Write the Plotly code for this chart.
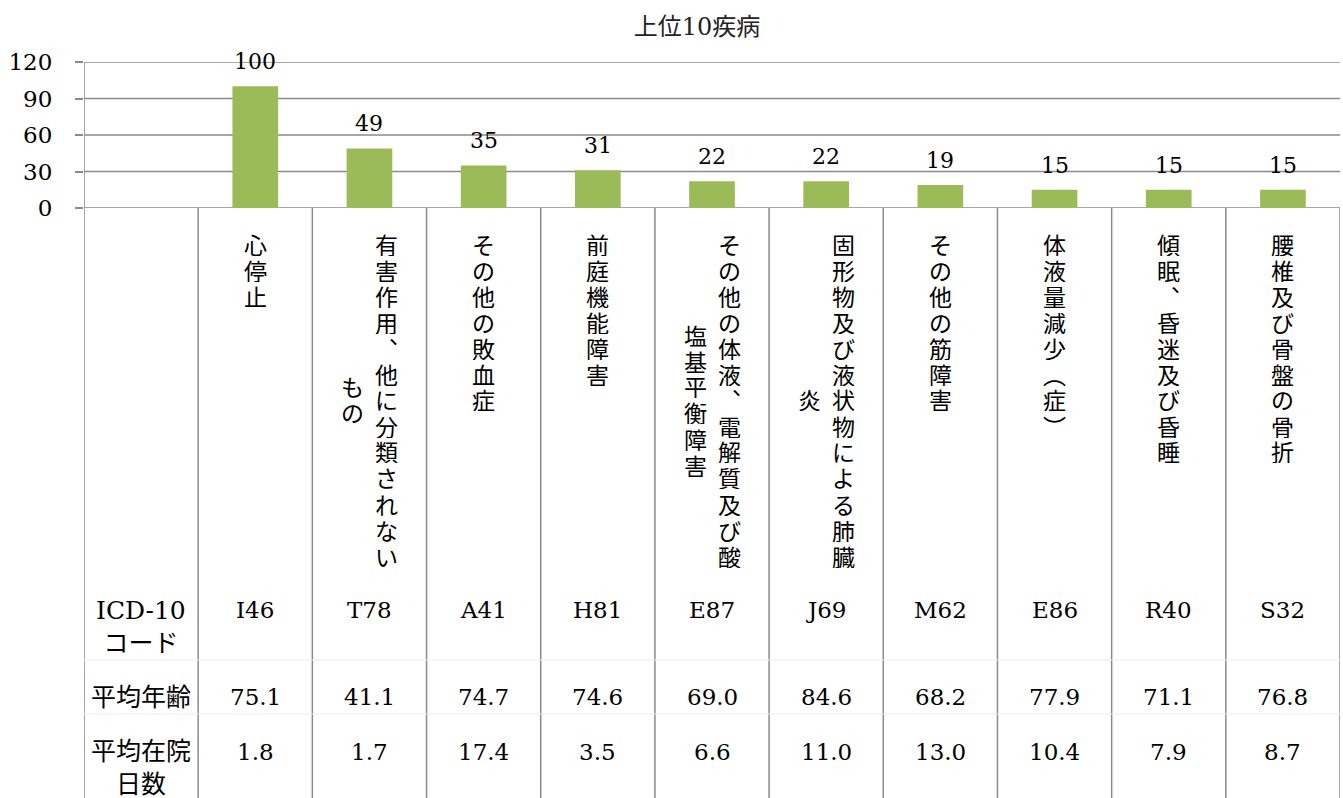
import plotly.graph_objects as go

# ---------------- data ----------------
chart_title = "上位10疾病"
diseases = [
    "心停止",
    "有害作用、他に分類されないもの",
    "その他の敗血症",
    "前庭機能障害",
    "その他の体液、電解質及び酸塩基平衡障害",
    "固形物及び液状物による肺臓炎",
    "その他の筋障害",
    "体液量減少（症）",
    "傾眠、昏迷及び昏睡",
    "腰椎及び骨盤の骨折",
]
counts = [100, 49, 35, 31, 22, 22, 19, 15, 15, 15]
icd_codes = ["I46", "T78", "A41", "H81", "E87", "J69", "M62", "E86", "R40", "S32"]
mean_age = ["75.1", "41.1", "74.7", "74.6", "69.0", "84.6", "68.2", "77.9", "71.1", "76.8"]
mean_stay = ["1.8", "1.7", "17.4", "3.5", "6.6", "11.0", "13.0", "10.4", "7.9", "8.7"]
row_headers = ["ICD-10<br>コード", "平均年齢", "平均在院<br>日数"]
y_ticks = [0, 30, 60, 90, 120]

# ---------------- layout constants ----------------
W, H = 1343, 798
TOP, BOTTOM_PX = 62, 798
ZERO_PX = 208
PLOT_H = BOTTOM_PX - TOP
GRID = "#8a8a8a"
BAR = "#9BBB59"
SERIF = "DejaVu Serif, Noto Sans CJK JP, serif"
CJK = "Noto Sans CJK JP, sans-serif"


def py(p):
    """pixel y -> paper y"""
    return (BOTTOM_PX - p) / PLOT_H


xs = list(range(1, len(diseases) + 1))
NCOL = len(diseases) + 1

fig = go.Figure()
fig.add_trace(go.Bar(x=xs, y=counts, width=0.4, marker=dict(color=BAR, line=dict(width=0)),
                     hoverinfo="skip"))

annotations = []
# value labels
for x, v in zip(xs, counts):
    annotations.append(dict(x=x, y=v, xref="x", yref="y", text=str(v), showarrow=False,
                            yanchor="bottom", yshift=10,
                            font=dict(family=SERIF, size=22, color="#000")))

# vertical category labels (characters stacked top to bottom, columns right to left)
VMAP = {"、": "︑", "（": "︵", "）": "︶"}
COLLEN = 13
VSIZE = 23
PITCH = 26
FIRST_C = 243
for x, name in zip(xs, diseases):
    cols = [name[i:i + COLLEN] for i in range(0, len(name), COLLEN)]
    offsets = [0] if len(cols) == 1 else [17, -17]
    right_center = FIRST_C + (len(cols[0]) - 1) / 2 * PITCH
    for ci, col in enumerate(cols):
        n = len(col)
        for k, ch in enumerate(col):
            if ci == 0:
                cy = FIRST_C + k * PITCH
            else:
                cy = right_center + (k - (n - 1) / 2) * PITCH
            annotations.append(dict(x=x, y=py(cy), xref="x", yref="paper",
                                    xshift=offsets[ci], text=VMAP.get(ch, ch),
                                    showarrow=False, yanchor="middle", xanchor="center",
                                    height=PITCH - 1, valign="middle", borderpad=0,
                                    font=dict(family=CJK, size=VSIZE, color="#000")))

# table rows
row_values = [icd_codes, mean_age, mean_stay]
row_value_y = [610, 697, 752]
row_header_y = [627, 697, 768]
for hdr, vals, vy, hy in zip(row_headers, row_values, row_value_y, row_header_y):
    annotations.append(dict(x=0, y=py(hy), xref="x", yref="paper", text=hdr,
                            showarrow=False, yanchor="middle",
                            font=dict(family=SERIF, size=25, color="#000")))
    for x, v in zip(xs, vals):
        annotations.append(dict(x=x, y=py(vy), xref="x", yref="paper", text=v,
                                showarrow=False, yanchor="middle",
                                font=dict(family=SERIF, size=23, color="#000")))

shapes = []
# horizontal gridlines
for t in y_ticks:
    shapes.append(dict(type="line", xref="x", yref="y", x0=-0.5, x1=NCOL - 0.5, y0=t, y1=t,
                       layer="below", line=dict(color=GRID, width=1.5)))
# y axis line running through the whole table
shapes.append(dict(type="line", xref="x", yref="paper", x0=-0.5, x1=-0.5, y0=0, y1=1,
                   line=dict(color=GRID, width=1.5)))
# column separators + right border
for k in range(NCOL):
    xx = k + 0.5
    shapes.append(dict(type="line", xref="x", yref="paper", x0=xx, x1=xx, y0=0,
                       y1=py(ZERO_PX), line=dict(color=GRID, width=1.5)))
# faint row separators
for yy in [660, 714]:
    shapes.append(dict(type="line", xref="x", yref="paper", x0=-0.5, x1=NCOL - 0.5,
                       y0=py(yy), y1=py(yy), line=dict(color="#ececec", width=1)))

fig.update_layout(
    width=W, height=H,
    margin=dict(l=84, r=3, t=TOP, b=0, pad=0, autoexpand=False),
    paper_bgcolor="white", plot_bgcolor="white",
    showlegend=False,
    title=dict(text=chart_title, xref="container", yref="container",
               x=697 / W, y=1 - 27 / H, xanchor="center", yanchor="middle",
               font=dict(family=SERIF, size=24, color="#222")),
    xaxis=dict(range=[-0.5, NCOL - 0.5], showticklabels=False, showgrid=False,
               zeroline=False, showline=False, ticks="", fixedrange=True, automargin=False),
    yaxis=dict(range=[0, 120], domain=[py(ZERO_PX), 1], tickvals=y_ticks,
               showgrid=False, zeroline=False, automargin=False,
               showline=False, ticks="outside", ticklen=8, tickcolor=GRID, tickwidth=1.5,
               ticklabelstandoff=18,
               tickfont=dict(family=SERIF, size=23, color="#000"), fixedrange=True),
    annotations=annotations,
    shapes=shapes,
)

fig.write_html("out.html", config={"displayModeBar": False},
               post_script="document.body.style.margin='0';document.body.style.overflow='hidden';")
